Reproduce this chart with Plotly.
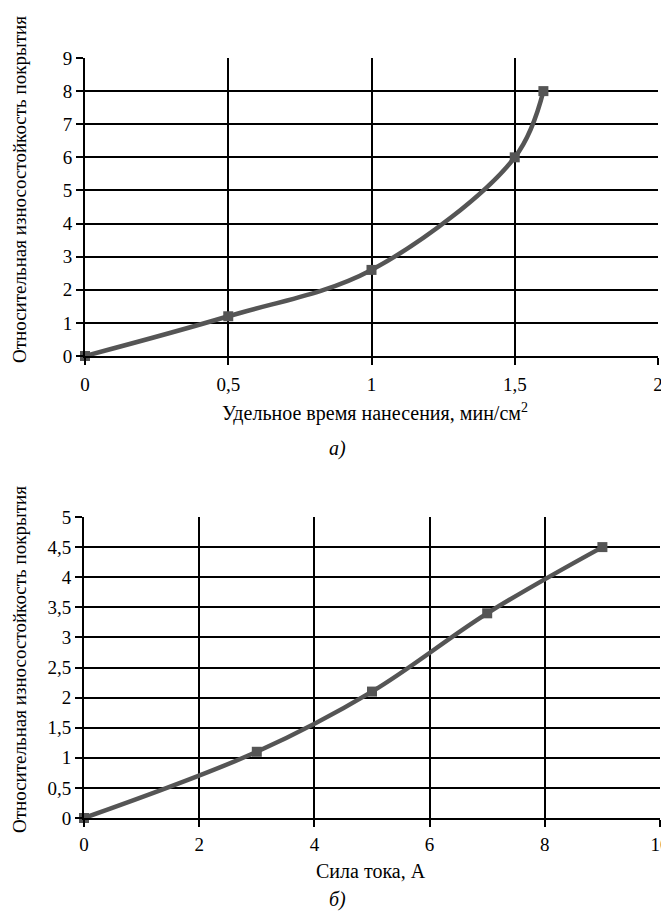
import plotly.graph_objects as go

# Data
x_a = [0, 0.5, 1, 1.5, 1.6]
y_a = [0, 1.2, 2.6, 6, 8]
x_b = [0, 3, 5, 7, 9]
y_b = [0, 1.1, 2.1, 3.4, 4.5]

xt_a = [0, 0.5, 1, 1.5, 2]
yt_a = list(range(0, 10))
xt_b = [0, 2, 4, 6, 8, 10]
yt_b = [0, 0.5, 1, 1.5, 2, 2.5, 3, 3.5, 4, 4.5, 5]

ytitle = "Относительная износостойкость покрытия"
xtitle_a = "Удельное время нанесения, мин/см<sup>2</sup>"
xtitle_b = "Сила тока, А"

FONT = "Times New Roman, Liberation Serif, serif"
LC = "#555555"

# page body has an 8px margin; figure fills the rest of the window
OFF = 8
W, H = 669 - OFF, 911 - OFF


def px(x):
    return (x - OFF) / W


def py(y):
    return 1 - (y - OFF) / H


fig = go.Figure()
fig.add_trace(go.Scatter(x=x_a, y=y_a, mode="lines+markers", xaxis="x", yaxis="y",
                         line=dict(color=LC, width=4.5, shape="spline", smoothing=1),
                         marker=dict(symbol="square", size=10, color=LC),
                         cliponaxis=False, showlegend=False))
fig.add_trace(go.Scatter(x=x_b, y=y_b, mode="lines+markers", xaxis="x2", yaxis="y2",
                         line=dict(color=LC, width=4.5, shape="spline", smoothing=1),
                         marker=dict(symbol="square", size=10, color=LC),
                         cliponaxis=False, showlegend=False))

common = dict(showgrid=True, gridcolor="black", gridwidth=2, zeroline=False,
              showline=True, linecolor="black", linewidth=2, automargin=False,
              ticks="outside", ticklen=7, tickcolor="black", tickwidth=2,
              ticklabeloverflow="allow",
              tickfont=dict(family=FONT, size=19, color="black"))


def ann(text, x, y, size=20, angle=0):
    return dict(text=text, textangle=angle, x=px(x), y=py(y), xref="paper", yref="paper",
                xanchor="center", yanchor="middle", showarrow=False,
                font=dict(family=FONT, size=size, color="black"))


fig.update_layout(
    width=W, height=H,
    margin=dict(l=0, r=0, t=0, b=0),
    paper_bgcolor="white", plot_bgcolor="white",
    separators=", ",
    font=dict(family=FONT, color="black"),
    xaxis=dict(domain=[px(85), px(658)], range=[0, 2], tickvals=xt_a, anchor="y",
               ticklabelstandoff=3, **common),
    yaxis=dict(domain=[py(356), py(58)], range=[0, 9], tickvals=yt_a, anchor="x", **common),
    xaxis2=dict(domain=[px(84), px(660)], range=[0, 10], tickvals=xt_b, anchor="y2",
                ticklabelstandoff=1, **common),
    yaxis2=dict(domain=[py(818), py(517)], range=[0, 5], tickvals=yt_b, anchor="x2", **common),
    annotations=[
        ann(ytitle, 19, 190, 19, -90),
        ann(ytitle, 19, 660, 19, -90),
        ann(xtitle_a, 375, 413),
        ann(xtitle_b, 371, 871),
        ann("<i>а)</i>", 337, 448),
        ann("<i>б)</i>", 337, 899),
    ],
)

fig.write_html("out.html")
